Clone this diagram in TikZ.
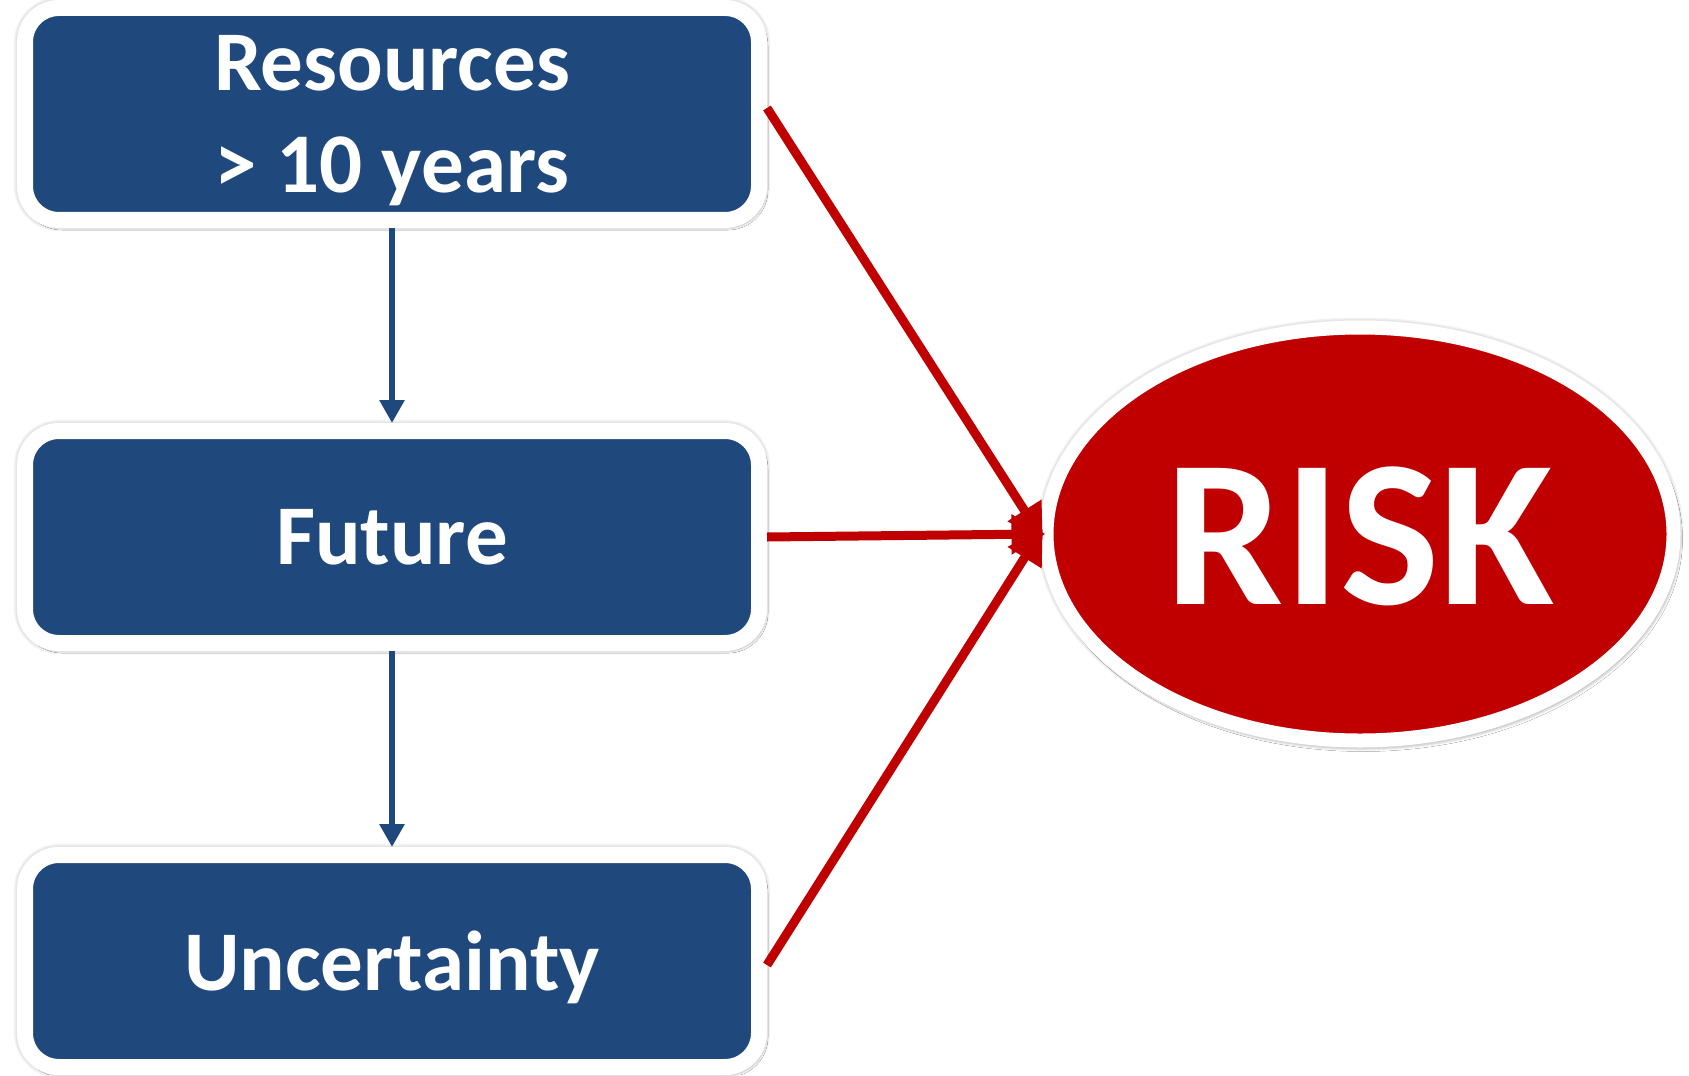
\documentclass[tikz,border=0pt]{standalone}
\usepackage{fontspec}
\setmainfont{Carlito}
\usetikzlibrary{arrows.meta,shapes.geometric,shadows.blur}
\definecolor{boxblue}{HTML}{1F497D}
\definecolor{riskred}{HTML}{C00000}
\begin{document}
\begin{tikzpicture}[x=0.5pt,y=-0.5pt,
  softedge/.style={
    preaction={draw=black, draw opacity=0.05, line width=#1+3pt},
    preaction={draw=black, draw opacity=0.05, line width=#1+1.5pt}},
  card/.style={rectangle, rounded corners=17pt, fill=boxblue, draw=white,
    line width=8pt, minimum width=367pt, minimum height=106pt, inner sep=0pt,
    align=center, text=white, text depth=0pt,
    font=\fontsize{42.5}{51}\selectfont\bfseries,
    blur shadow={shadow xshift=1.5pt, shadow yshift=-2pt,
      shadow blur radius=3pt, shadow opacity=30},
    softedge=8pt},
  riskoval/.style={ellipse, fill=riskred, draw=white, line width=7pt,
    minimum width=313.5pt, minimum height=206.5pt, inner sep=0pt,
    text=white, text depth=0pt, font=\fontsize{105}{120}\selectfont\bfseries,
    blur shadow={shadow xshift=1.5pt, shadow yshift=-2.5pt,
      shadow blur radius=3pt, shadow opacity=30},
    softedge=7pt},
  bluearrow/.style={draw=boxblue, line width=3pt,
    -{Triangle[length=11.5pt,width=12pt]}},
  redarrow/.style={draw=riskred, line width=4.5pt, shorten >=-3pt,
    -{Triangle[length=17pt,width=19pt]}}]
  \useasboundingbox[fill=white] (0,0) rectangle (1689,1075);

  % three causes on the left
  \node[card] (res) at (392,114) {Resources\\> 10 years};
  \node[card] (fut) at (392,537) {Future};
  \node[card] (unc) at (392,961) {Uncertainty};

  % the outcome on the right
  \node[riskoval] (risk) at (1360,534) {\raisebox{-1.5pt}{RISK}};

  % chain from top to bottom
  \draw[bluearrow] (res.south) -- (fut.north);
  \draw[bluearrow] (fut.south) -- (unc.north);

  % every cause feeds the risk
  \draw[redarrow] ([yshift=3pt]res.east) -- (risk.west);
  \draw[redarrow] (fut.east) -- (risk.west);
  \draw[redarrow] ([yshift=-2pt]unc.east) -- (risk.west);
\end{tikzpicture}
\end{document}
